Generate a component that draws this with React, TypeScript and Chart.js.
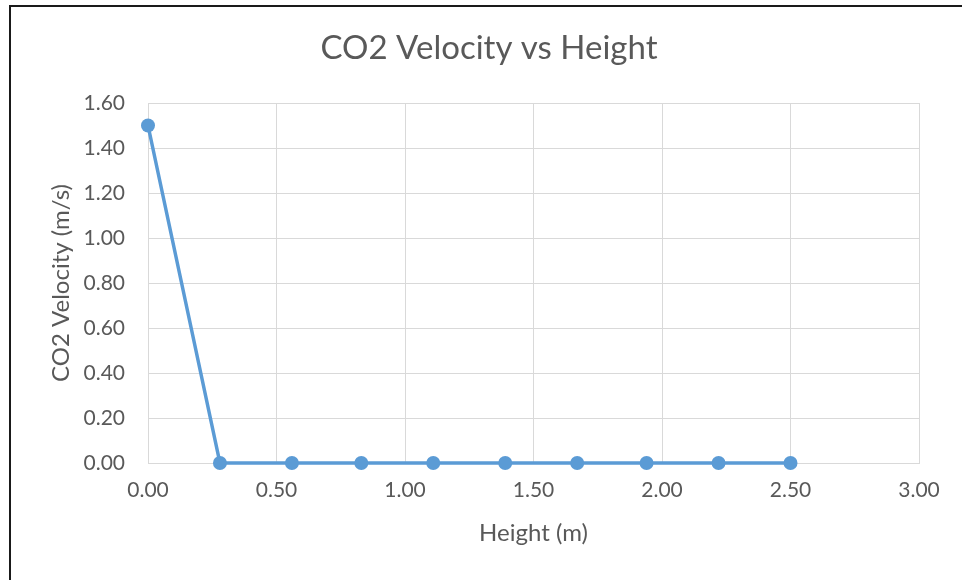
import React, { useEffect, useRef } from "react";
import { Chart, registerables } from "chart.js";

Chart.register(...registerables);

// Sampled heights (m) and measured CO2 velocity (m/s)
const heights: number[] = [0.0, 0.28, 0.56, 0.83, 1.11, 1.39, 1.67, 1.94, 2.22, 2.5];
const velocities: number[] = [1.5, 0.0, 0.0, 0.0, 0.0, 0.0, 0.0, 0.0, 0.0, 0.0];

const chartTitle = "CO2 Velocity vs Height";
const xAxisTitle = "Height (m)";
const yAxisTitle = "CO2 Velocity (m/s)";

const X_MIN = 0;
const X_MAX = 3;
const X_STEP = 0.5;
const Y_MIN = 0;
const Y_MAX = 1.6;
const Y_STEP = 0.2;

const FONT = "Lato, 'Open Sans', sans-serif";
const TEXT = "#595959";
const GRID = "#d9d9d9";
const LINE = "#5b9bd5";

export default function App() {
  const canvasRef = useRef<HTMLCanvasElement | null>(null);

  useEffect(() => {
    document.body.style.margin = "0";
    const canvas = canvasRef.current;
    if (!canvas) return;

    const chart = new Chart(canvas, {
      type: "scatter",
      data: {
        datasets: [
          {
            label: yAxisTitle,
            data: heights.map((h, i) => ({ x: h, y: velocities[i] })),
            showLine: true,
            clip: false,
            borderColor: LINE,
            backgroundColor: LINE,
            borderWidth: 3.5,
            pointRadius: 7,
            pointBorderWidth: 0,
            pointBackgroundColor: LINE,
          },
        ],
      },
      options: {
        animation: false,
        responsive: false,
        maintainAspectRatio: false,
        layout: { padding: { left: 16, right: 0, top: 0, bottom: 0 } },
        plugins: {
          legend: { display: false },
          tooltip: { enabled: false },
          title: {
            display: true,
            text: chartTitle,
            color: TEXT,
            font: { family: FONT, size: 33, weight: "normal", lineHeight: 1.2 },
            padding: { top: 28.2, bottom: 35.2 },
          },
        },
        scales: {
          x: {
            type: "linear",
            min: X_MIN,
            max: X_MAX,
            afterFit: (scale: any) => {
              scale.height = 117;
            },
            ticks: {
              stepSize: X_STEP,
              color: TEXT,
              padding: 15,
              font: { family: FONT, size: 21 },
              callback: (v: any) => Number(v).toFixed(2),
            },
            grid: { color: GRID, lineWidth: 1, drawTicks: false },
            border: { color: GRID, width: 1 },
            title: {
              display: true,
              text: xAxisTitle,
              color: TEXT,
              font: { family: FONT, size: 24 },
              padding: { top: 32.6, bottom: 32.6 },
            },
          },
          y: {
            type: "linear",
            min: Y_MIN,
            max: Y_MAX,
            afterFit: (scale: any) => {
              scale.width = 132;
            },
            ticks: {
              stepSize: Y_STEP,
              color: TEXT,
              padding: 23,
              font: { family: FONT, size: 21 },
              callback: (v: any) => Number(v).toFixed(2),
            },
            grid: { color: GRID, lineWidth: 1, drawTicks: false },
            border: { color: GRID, width: 1 },
            title: {
              display: true,
              text: yAxisTitle,
              color: TEXT,
              font: { family: FONT, size: 24 },
              padding: { top: 30.6, bottom: 30.6 },
            },
          },
          // empty right-hand margin beside the plot area
          yRight: {
            type: "linear",
            position: "right",
            display: true,
            afterFit: (scale: any) => {
              scale.width = 43;
            },
            ticks: { display: false },
            grid: { display: false, drawTicks: false },
            border: { display: false },
          },
        },
      },
    });

    return () => chart.destroy();
  }, []);

  return (
    <div style={{ position: "relative", width: 962, height: 580, overflow: "hidden", background: "#fff" }}>
      <canvas ref={canvasRef} width={962} height={580} style={{ position: "absolute", left: 0, top: 0 }} />
      <div
        style={{
          position: "absolute",
          left: 9,
          top: 5,
          width: 1000,
          height: 1000,
          border: "2px solid #1a1a1a",
          pointerEvents: "none",
        }}
      />
    </div>
  );
}
